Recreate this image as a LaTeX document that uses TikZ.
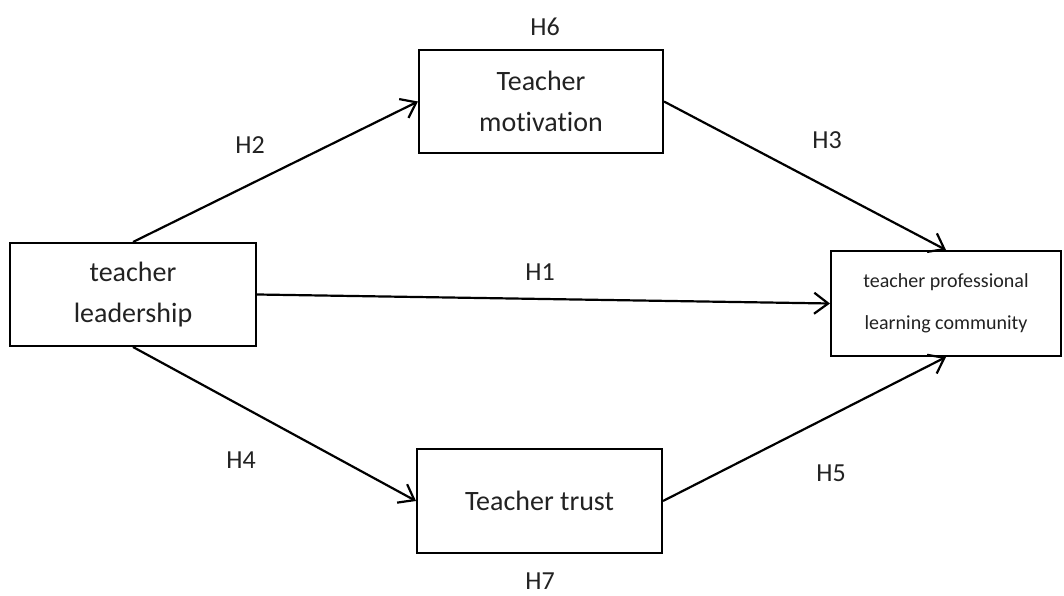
\documentclass[tikz,border=0pt]{standalone}
\usepackage{fontspec}
\setmainfont{Carlito}[Ligatures={NoCommon}]
\usepackage{tikz}
\usetikzlibrary{arrows.meta, positioning}
\tikzset{>={Straight Barb[length=14pt,width=21pt]}}
\definecolor{mytext}{HTML}{222222}
\tikzset{
	varbox/.style={draw, line width=2pt, align=center, text=mytext, font=\fontsize{28}{41}\selectfont},
	hyplabel/.style={text=mytext, font=\fontsize{26}{30}\selectfont},
	path/.style={->, line width=2.2pt}
}

\begin{document}
\begin{tikzpicture}[x=1pt, y=1pt]
				\useasboundingbox (0,0) rectangle (1064,596);
				\node [varbox, minimum width=246pt, minimum height=103pt] (lead) at (133,301.5) {teacher\\leadership};
				\node [varbox, minimum width=244pt, minimum height=103pt] (motiv) at (541,494.5) {Teacher\\motivation};
				\node [varbox, minimum width=245pt, minimum height=104pt] (trust) at (539.5,95) {Teacher trust};
				\node [varbox, minimum width=230pt, minimum height=105pt, font=\fontsize{20}{42}\selectfont] (plc) at (946,292.5) {teacher professional\\learning community};
				\draw [path] (lead.north) -- (motiv.west);
				\draw [path] (lead.east) -- (plc.west);
				\draw [path] (lead.south) -- (trust.west);
				\draw [path] (motiv.east) -- (plc.north);
				\draw [path] (trust.east) -- (plc.south);
				\node [hyplabel] (h1) at (540,324) {H1};
				\node [hyplabel] (h2) at (250,451) {H2};
				\node [hyplabel] (h3) at (827,456) {H3};
				\node [hyplabel] (h4) at (241,136) {H4};
				\node [hyplabel] (h5) at (831,123) {H5};
				\node [hyplabel] (h6) at (545,569) {H6};
				\node [hyplabel] (h7) at (540,15) {H7};
			\end{tikzpicture}
\end{document}
